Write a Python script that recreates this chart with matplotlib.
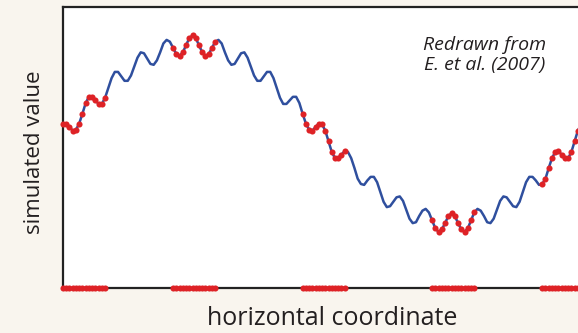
import matplotlib
matplotlib.use("Agg")
import matplotlib.pyplot as plt
import numpy as np

BG = "#f9f5ee"
BLUE = "#2f4f9e"
RED = "#de2226"

# curve samples, 8 per small wiggle (x step = 1/8)
curve_y = [
    0.11, 0.12, 0.08, 0.04, 0.05, 0.12, 0.23, 0.35, 0.42, 0.42,
    0.38, 0.34, 0.34, 0.41, 0.52, 0.63, 0.70, 0.70, 0.65, 0.60,
    0.60, 0.66, 0.76, 0.86, 0.92, 0.91, 0.85, 0.79, 0.78, 0.83,
    0.92, 1.02, 1.06, 1.04, 0.97, 0.90, 0.88, 0.92, 1.00, 1.08,
    1.11, 1.08, 1.00, 0.92, 0.88, 0.90, 0.97, 1.04, 1.06, 1.02,
    0.92, 0.83, 0.78, 0.79, 0.85, 0.91, 0.92, 0.86, 0.76, 0.66,
    0.60, 0.60, 0.65, 0.70, 0.70, 0.63, 0.52, 0.41, 0.34, 0.34,
    0.38, 0.42, 0.42, 0.35, 0.23, 0.12, 0.05, 0.04, 0.08, 0.12,
    0.11, 0.04, -0.08, -0.20, -0.27, -0.27, -0.23, -0.19, -0.20, -0.27,
    -0.38, -0.50, -0.56, -0.57, -0.52, -0.48, -0.48, -0.54, -0.65, -0.76,
    -0.82, -0.81, -0.76, -0.71, -0.70, -0.75, -0.85, -0.95, -1.00, -0.99,
    -0.92, -0.86, -0.84, -0.88, -0.97, -1.06, -1.10, -1.07, -1.00, -0.92,
    -0.89, -0.92, -1.00, -1.07, -1.10, -1.06, -0.97, -0.88, -0.84, -0.86,
    -0.92, -0.99, -1.00, -0.95, -0.85, -0.75, -0.70, -0.71, -0.76, -0.81,
    -0.82, -0.76, -0.65, -0.54, -0.48, -0.48, -0.52, -0.57, -0.56, -0.50,
    -0.38, -0.27, -0.20, -0.19, -0.23, -0.27, -0.27, -0.20, -0.08, 0.04,
    0.11,
]
curve_x = np.arange(len(curve_y)) / 8.0

# sampled stretches (start index into the curve, number of samples)
sample_start = [0, 34, 74, 114, 148]
sample_len = [14, 14, 14, 14, 13]

plt.rcParams["font.family"] = ["Open Sans", "DejaVu Sans"]

fig = plt.figure(figsize=(5.78, 3.33), dpi=100, facecolor=BG)
ax = fig.add_axes([0.109, 0.135, 0.891, 0.844])
ax.set_facecolor("white")

ax.plot(curve_x, curve_y, color=BLUE, lw=1.8, zorder=2)

ymin, ymax = -1.73, 1.43
cy = np.array(curve_y)
for s, n in zip(sample_start, sample_len):
    idx = np.arange(s, min(s + n, len(curve_y)))
    ax.plot(curve_x[idx], cy[idx], "o", color=RED, ms=4.4, mew=0,
            zorder=3, clip_on=False)
    ax.plot(curve_x[idx], np.full(len(idx), ymin), "o", color=RED, ms=4.4,
            mew=0, zorder=4, clip_on=False)

ax.set_xlim(0, 19.88)
ax.set_ylim(ymin, ymax)
ax.set_xticks([]); ax.set_yticks([])
for side in ("left", "bottom", "top"):
    ax.spines[side].set_color("#222222")
    ax.spines[side].set_linewidth(1.6)
ax.spines["right"].set_visible(False)

fig.text(0.059, 0.544, "simulated value", rotation=90, ha="center",
         va="center", fontsize=16, color="#231f20")
fig.text(0.574, 0.045, "horizontal coordinate", ha="center", va="center",
         fontsize=18, color="#231f20")
ax.text(0.819, 0.829, "Redrawn from\nE. et al. (2007)", transform=ax.transAxes,
        ha="center", va="center", fontsize=14, style="italic",
        color="#231f20", linespacing=1.1)

fig.savefig("out.png", dpi=100, facecolor=BG)
